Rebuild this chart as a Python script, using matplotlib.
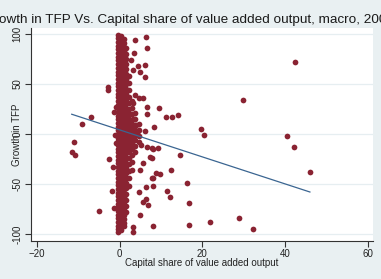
import numpy as np
import matplotlib
matplotlib.use('Agg')
import matplotlib.pyplot as plt

# dense column of firms near zero capital share (y values per strand)
strand_x = [-0.4, 0.3, 1.0, 1.6, 2.3, 3.0, 3.8, 4.6]
strand_y = [
    [99, 96, 92, 88, 85, 81, 77, 74, 70, 66, 62, 59, 55, 51, 48, 44, 40, 37, 33, 29,
     26, 22, 18, 15, 11, 7, 4, 0, -4, -7, -11, -15, -18, -22, -26, -29, -33, -37, -40,
     -44, -48, -51, -55, -59, -62, -66, -70, -73, -77, -81, -84, -88, -92, -95, -98],
    [98, 94, 90, 86, 83, 79, 75, 72, 68, 64, 61, 57, 53, 50, 46, 42, 39, 35, 31, 28,
     24, 20, 17, 13, 9, 6, 2, -2, -5, -9, -13, -16, -20, -24, -27, -31, -35, -38, -42,
     -46, -49, -53, -57, -60, -64, -68, -71, -75, -79, -82, -86, -90, -93, -96],
    [95, 91, 87, 83, 79, 75, 71, 67, 63, 58, 54, 50, 45, 41, 37, 32, 28, 24, 19, 15,
     11, 6, 2, -3, -7, -11, -16, -20, -24, -29, -33, -37, -42, -46, -50, -55, -59, -63,
     -68, -72, -76, -81, -85, -89, -92],
    [86, 80, 75, 70, 65, 60, 55, 50, 45, 40, 35, 30, 25, 21, 17, 12, 8, 3, -1, -5,
     -10, -14, -19, -24, -29, -34, -39, -44, -49, -54, -60, -66, -72, -78],
    [58, 51, 44, 37, 31, 25, 20, 15, 10, 6, 1, -4, -8, -13, -18, -24, -30, -37, -44,
     -52],
    [33, 26, 20, 14, 9, 4, 0, -5, -10, -15, -21, -28, -36],
    [21, 15, 9, 4, -1, -6, -12, -18],
    [10, 4, -2, -8],
]

# scattered observations
out_x = [-2.75, -2.75, -7.0, -9.0, -11.0, -11.6, -10.7, -2.7, -1.5, -1.9, -4.9, -1.4,
         -1.4, -0.9, -1.0, -1.1,
         3.7, 6.35, 3.4, 6.7, 2.7, 4.35, 6.1, 3.3, 4.9, 6.1, 3.7, 4.7, 5.7, 3.2, 6.7,
         9.5, 11.3, 12.6, 14.2, 6.7, 3.3, 8.3, 4.0, 6.1, 4.5, 19.7, 20.4, 29.9, 42.5,
         40.4, 42.2, 46.0, 5.2, 6.5, 7.7, 8.0, 9.3, 7.3, 7.7, 14.6, 5.7, 4.9, 8.7, 9.8,
         12.4, 8.1, 7.7, 6.3, 8.1, 4.7, 11.4, 12.2, 5.7, 6.9, 6.35, 16.2, 16.7, 4.9,
         3.2, 3.3, 8.1, 16.8, 21.9, 28.9, 32.3]
out_y = [47, 44, 17, 10, -8, -18, -21, -25, -32.5, -57, -77, -73.5,
         22, 27, -9, -1,
         94, 97, 81, 86, 74, 68, 69, 64, 62, 57, 39, 36, 36, 31, 27,
         26, 17, 17, 19, 20, 15, 7, 9, 3, 3, 5.5, -1, 34, 72,
         -1.5, -13, -38, -11, -12.7, -14, -15, -13.5, -23, -24, -21, -29, -36, -39, -40,
         -36, -44, -44, -53, -52, -58, -57, -63, -68, -71, -65, -49, -68.5, -81,
         -93, -98, -91.7, -91, -88, -84, -95]

# linear fit
fit_a = 4.1
fit_b = -1.35

xticks = [-20, 0, 20, 40, 60]
yticks = [-100, -50, 0, 50, 100]

plt.rcParams['font.family'] = ['Liberation Sans', 'DejaVu Sans']

fig = plt.figure(figsize=(3.81, 2.79), dpi=100)
fig.patch.set_facecolor('#e9f0f2')
ax = fig.add_axes([31/381, 38/279, 342/381, 213/279])
ax.set_facecolor('white')

xs = []
ys = []
for sx, sy in zip(strand_x, strand_y):
    xs += [sx] * len(sy)
    ys += sy
xs += out_x
ys += out_y
ax.scatter(xs, ys, s=17, color='#8a2332', linewidths=0, zorder=3)

lx = np.array([min(xs), max(xs)])
ax.plot(lx, fit_a + fit_b * lx, color='#3a6591', lw=0.9, zorder=4)

ax.set_xlim(-21.45, 61.26)
ax.set_ylim(-107, 106)
ax.set_xticks(xticks)
ax.set_yticks(yticks)
ax.set_yticklabels([str(v) for v in yticks], rotation=90, va='center')
ax.tick_params(axis='both', labelsize=7, length=4, width=0.8, color='#333333',
               labelcolor='#222222')
ax.tick_params(axis='x', pad=2)
ax.tick_params(axis='y', pad=2)
ax.yaxis.grid(True, color='#e6eef1', lw=0.9)
ax.set_axisbelow(True)
for s in ['top', 'right']:
    ax.spines[s].set_visible(False)
for s in ['left', 'bottom']:
    ax.spines[s].set_color('#333333')
    ax.spines[s].set_linewidth(0.8)

fig.text(202/381, 1 - 266/279, 'Capital share of value added output', ha='center',
         va='baseline', fontsize=7, color='#222222')
fig.text(17/381, 1 - 134.5/279, 'Growth in TFP', ha='center', va='center',
         rotation=90, fontsize=7, color='#222222')
fig.text(188.5/381, 1 - 23/279, 'Growth in TFP Vs. Capital share of value added output, macro, 2000',
         ha='center', va='baseline', fontsize=9.7, color='#1a1a1a')

fig.savefig('out.png', dpi=100, facecolor=fig.get_facecolor())
